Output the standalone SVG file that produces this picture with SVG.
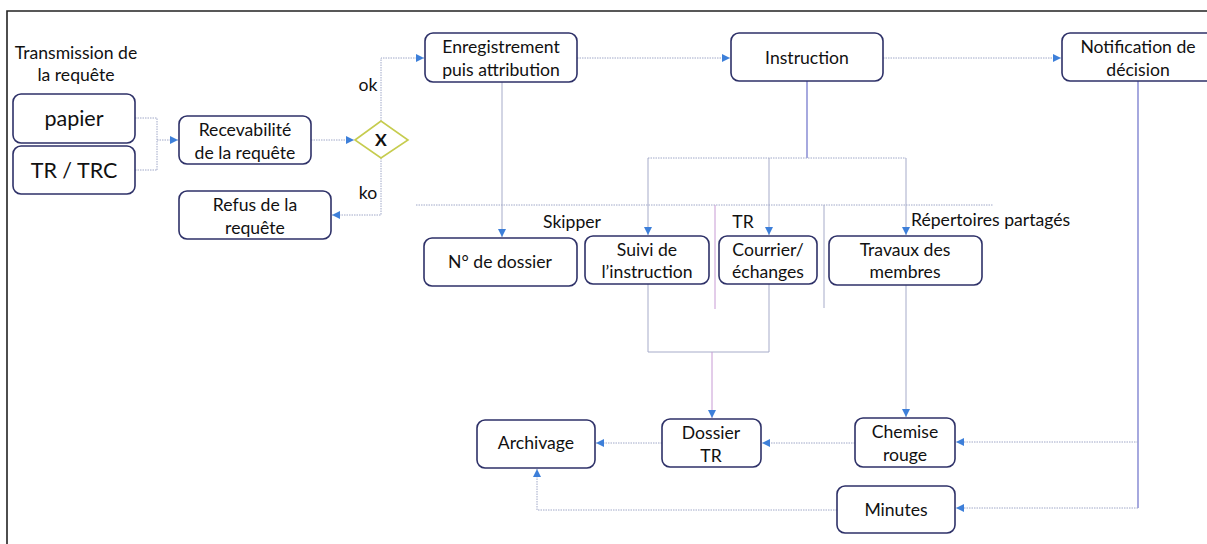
<svg xmlns="http://www.w3.org/2000/svg" width="1207" height="544" viewBox="0 0 1207 544">
  <defs>
    <marker id="arr" viewBox="0 0 8 8" refX="8" refY="4" markerWidth="8" markerHeight="8" markerUnits="userSpaceOnUse" orient="auto">
      <path d="M0,0 L8,4 L0,8 z" fill="#3d7fd9"/>
    </marker>
    <style>
      .box { fill: #ffffff; stroke: #2e3168; stroke-width: 1.6; }
      .t { font-family: Lato, "Liberation Sans", sans-serif; font-size: 17.6px; fill: #111111; text-anchor: middle; }
      .big { font-size: 21.5px; }
      .lbl { font-family: Lato, "Liberation Sans", sans-serif; font-size: 17.6px; fill: #111111; }
      .c { fill: none; stroke: #a0a8c8; stroke-width: 1; stroke-dasharray: 1.5 1; }
      .s { fill: none; stroke: #6b6fc9; stroke-width: 1.2; }
      .p { fill: none; stroke: #c79ad4; stroke-width: 1; }
      .g { fill: none; stroke: #a6abc9; stroke-width: 1; }
    </style>
  </defs>
  <rect width="1207" height="544" fill="#ffffff"/>
  <!-- frame -->
  <path d="M7,544 L7,11 L1207,11" fill="none" stroke="#222222" stroke-width="1.6"/>

  <g id="connectors">
    <!-- inputs to recevabilite -->
    <path class="c" d="M135,118 L157,118 L157,170 M135,170 L157,170"/>
    <path class="c" d="M157,140 L178,140" marker-end="url(#arr)"/>
    <path class="c" d="M311,140 L354,140" marker-end="url(#arr)"/>
    <!-- ok -->
    <path class="c" d="M381,121 L381,58 L424,58" marker-end="url(#arr)"/>
    <!-- ko -->
    <path class="c" d="M381,158 L381,215 L332,215" marker-end="url(#arr)"/>
    <!-- top row -->
    <path class="c" d="M577,58 L730,58" marker-end="url(#arr)"/>
    <path class="c" d="M883,58 L1061,58" marker-end="url(#arr)"/>
    <!-- enregistrement down -->
    <path class="g" d="M502,82 L502,237" marker-end="url(#arr)"/>
    <!-- instruction branches -->
    <path class="s" d="M807,81 L807,158"/>
    <path class="c" d="M648,158 L906,158"/>
    <path class="g" d="M648,158 L648,235" marker-end="url(#arr)"/>
    <path class="g" d="M769,158 L769,235" marker-end="url(#arr)"/>
    <path class="g" d="M906,158 L906,235" marker-end="url(#arr)"/>
    <!-- lane separators -->
    <path class="c" d="M416,205 L993,205"/>
    <path class="p" d="M715,205 L715,309"/>
    <path class="g" d="M824,205 L824,308"/>
    <!-- suivi/courrier merge -->
    <path class="g" d="M648,284 L648,352 L769,352 L769,284"/>
    <path class="p" d="M712,352 L712,418" marker-end="url(#arr)"/>
    <!-- travaux to chemise -->
    <path class="g" d="M906,285 L906,417" marker-end="url(#arr)"/>
    <!-- notification down -->
    <path class="s" d="M1138,81 L1138,508"/>
    <path class="c" d="M1138,442 L956,442" marker-end="url(#arr)"/>
    <path class="c" d="M1138,508 L956,508" marker-end="url(#arr)"/>
    <!-- bottom row -->
    <path class="c" d="M855,443 L762,443" marker-end="url(#arr)"/>
    <path class="c" d="M662,443 L596,443" marker-end="url(#arr)"/>
    <path class="c" d="M837,510 L537,510 L537,469" marker-end="url(#arr)"/>
  </g>

  <g id="title">
    <text class="t" x="76" y="59">Transmission de</text>
    <text class="t" x="76" y="81">la requête</text>
  </g>
  <g id="papier">
    <rect class="box" x="13" y="94" width="122" height="49" rx="8"/>
    <text class="t big" x="74" y="126">papier</text>
  </g>
  <g id="trtrc">
    <rect class="box" x="13" y="146" width="122" height="48" rx="8"/>
    <text class="t big" x="74" y="178">TR / TRC</text>
  </g>
  <g id="recevabilite">
    <rect class="box" x="179" y="116" width="132" height="48" rx="8"/>
    <text class="t" x="245" y="136">Recevabilité</text>
    <text class="t" x="245" y="159">de la requête</text>
  </g>
  <g id="gateway">
    <polygon points="355,140 381,121 408,140 381,158" fill="#ffffff" stroke="#c6cc4e" stroke-width="1.6"/>
    <text class="t" x="381" y="146" font-weight="bold">X</text>
  </g>
  <g id="labels">
    <text class="t" x="368" y="91">ok</text>
    <text class="t" x="368" y="199">ko</text>
    <text class="t" x="572" y="228">Skipper</text>
    <text class="t" x="743" y="228">TR</text>
    <text class="lbl" x="911" y="226">Répertoires partagés</text>
  </g>
  <g id="refus">
    <rect class="box" x="179" y="191" width="152" height="48" rx="8"/>
    <text class="t" x="255" y="211">Refus de la</text>
    <text class="t" x="255" y="234">requête</text>
  </g>
  <g id="enregistrement">
    <rect class="box" x="425" y="33" width="152" height="49" rx="8"/>
    <text class="t" x="501" y="53">Enregistrement</text>
    <text class="t" x="501" y="76">puis attribution</text>
  </g>
  <g id="instruction">
    <rect class="box" x="731" y="33" width="152" height="48" rx="8"/>
    <text class="t" x="807" y="64">Instruction</text>
  </g>
  <g id="notification">
    <rect class="box" x="1062" y="33" width="152" height="48" rx="8"/>
    <text class="t" x="1138" y="53">Notification de</text>
    <text class="t" x="1138" y="76">décision</text>
  </g>
  <g id="dossier">
    <rect class="box" x="424" y="238" width="153" height="48" rx="8"/>
    <text class="t" x="500" y="268">N° de dossier</text>
  </g>
  <g id="suivi">
    <rect class="box" x="585" y="236" width="124" height="48" rx="8"/>
    <text class="t" x="647" y="256">Suivi de</text>
    <text class="t" x="647" y="278">l’instruction</text>
  </g>
  <g id="courrier">
    <rect class="box" x="719" y="236" width="98" height="48" rx="8"/>
    <text class="t" x="768" y="256">Courrier/</text>
    <text class="t" x="768" y="278">échanges</text>
  </g>
  <g id="travaux">
    <rect class="box" x="829" y="236" width="153" height="49" rx="8"/>
    <text class="t" x="905" y="256">Travaux des</text>
    <text class="t" x="905" y="278">membres</text>
  </g>
  <g id="dossiertr">
    <rect class="box" x="662" y="419" width="99" height="48" rx="8"/>
    <text class="t" x="711" y="439">Dossier</text>
    <text class="t" x="711" y="462">TR</text>
  </g>
  <g id="archivage">
    <rect class="box" x="477" y="420" width="118" height="48" rx="8"/>
    <text class="t" x="536" y="449">Archivage</text>
  </g>
  <g id="chemise">
    <rect class="box" x="855" y="418" width="100" height="49" rx="8"/>
    <text class="t" x="905" y="438">Chemise</text>
    <text class="t" x="905" y="461">rouge</text>
  </g>
  <g id="minutes">
    <rect class="box" x="837" y="486" width="118" height="47" rx="8"/>
    <text class="t" x="896" y="516">Minutes</text>
  </g>
</svg>
